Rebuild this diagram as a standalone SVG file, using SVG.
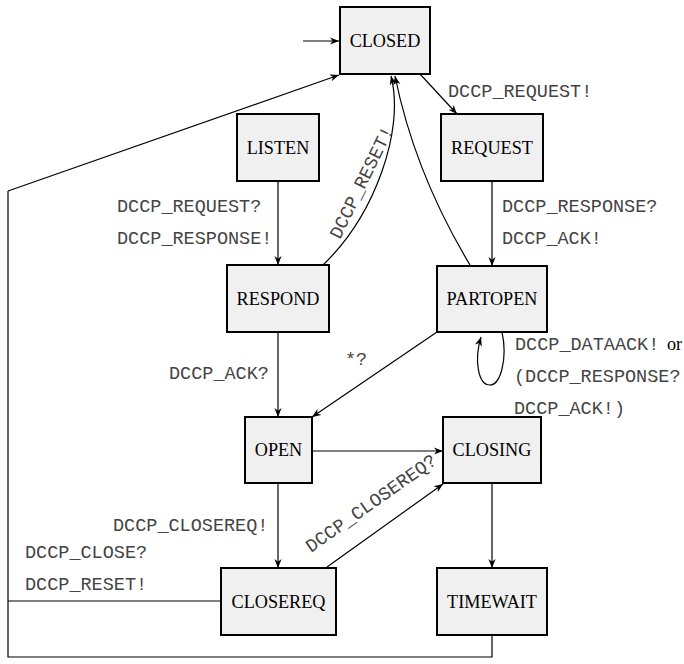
<svg xmlns="http://www.w3.org/2000/svg" width="684" height="664" viewBox="0 0 684 664">
<defs>
<marker id="arr" viewBox="0 0 10 10" refX="10" refY="5" markerWidth="9" markerHeight="9" markerUnits="userSpaceOnUse" orient="auto">
<path d="M0,1 L10,5 L0,9 L3,5 Z" fill="#000"/>
</marker>
<style>
.node rect{fill:#f0f0f0;stroke:#000;stroke-width:2}
.node text{font-family:"Liberation Serif","Times New Roman",serif;font-size:18.2px;text-anchor:middle;fill:#000}
.edges path,.edges line,.edges polyline{fill:none;stroke:#000;stroke-width:1.2}
.lbl{font-family:"Liberation Mono","Courier New",monospace;font-size:18.5px;fill:#444}
.ser{font-family:"Liberation Serif","Times New Roman",serif;font-size:18.2px;fill:#000}
</style>
</defs>
<rect width="684" height="664" fill="#fff"/>
<g class="edges">
<line x1="303" y1="41" x2="339" y2="41" marker-end="url(#arr)"/>
<line x1="420" y1="74" x2="457" y2="114" marker-end="url(#arr)"/>
<polyline points="8,191 8,657 492,657 492,635"/>
<line x1="8" y1="191" x2="339" y2="75" marker-end="url(#arr)"/>
<line x1="8" y1="601" x2="221" y2="601"/>
<line x1="278" y1="181" x2="278" y2="265" marker-end="url(#arr)"/>
<line x1="492" y1="181" x2="492" y2="266" marker-end="url(#arr)"/>
<path d="M323,265 C375,215 405,130 391,76" marker-end="url(#arr)"/>
<path d="M470,265 C440,215 410,150 395,76" marker-end="url(#arr)"/>
<line x1="278" y1="332" x2="278" y2="417" marker-end="url(#arr)"/>
<line x1="437" y1="332" x2="312" y2="417" marker-end="url(#arr)"/>
<path d="M502,332 C508,360 500,385 490,385 C478,385 474,360 481,337" marker-end="url(#arr)"/>
<line x1="312" y1="451" x2="443" y2="451" marker-end="url(#arr)"/>
<line x1="278" y1="483" x2="278" y2="568" marker-end="url(#arr)"/>
<line x1="492" y1="483" x2="492" y2="568" marker-end="url(#arr)"/>
<line x1="327" y1="567" x2="443" y2="484" marker-end="url(#arr)"/>
</g>
<g id="closed" class="node"><rect x="340" y="7" width="90" height="67"/><text x="385" y="47">CLOSED</text></g>
<g id="listen" class="node"><rect x="237" y="114" width="82" height="67"/><text x="278" y="154">LISTEN</text></g>
<g id="request" class="node"><rect x="441" y="114" width="102" height="67"/><text x="492" y="154">REQUEST</text></g>
<g id="respond" class="node"><rect x="227" y="265" width="102" height="67"/><text x="278" y="305">RESPOND</text></g>
<g id="partopen" class="node"><rect x="437" y="266" width="110" height="66"/><text x="492" y="305">PARTOPEN</text></g>
<g id="open" class="node"><rect x="245" y="417" width="67" height="66"/><text x="278.5" y="456">OPEN</text></g>
<g id="closing" class="node"><rect x="443" y="417" width="98" height="66"/><text x="492" y="456">CLOSING</text></g>
<g id="closereq" class="node"><rect x="221" y="568" width="115" height="67"/><text x="278.5" y="608">CLOSEREQ</text></g>
<g id="timewait" class="node"><rect x="437" y="568" width="110" height="67"/><text x="492" y="608">TIMEWAIT</text></g>
<g id="labels">
<text class="lbl" x="448" y="97">DCCP_REQUEST!</text>
<text class="lbl" x="117" y="212">DCCP_REQUEST?</text>
<text class="lbl" x="117" y="244">DCCP_RESPONSE!</text>
<text class="lbl" x="502" y="212">DCCP_RESPONSE?</text>
<text class="lbl" x="502" y="244">DCCP_ACK!</text>
<text class="lbl" transform="translate(340,240) rotate(-64)">DCCP_RESET!</text>
<text class="lbl" x="515" y="350">DCCP_DATAACK!</text>
<text class="ser" x="667" y="350">or</text>
<text class="lbl" x="514" y="382">(DCCP_RESPONSE?</text>
<text class="lbl" x="514" y="414">DCCP_ACK!)</text>
<text class="lbl" x="345" y="365">*?</text>
<text class="lbl" x="169" y="379">DCCP_ACK?</text>
<text class="lbl" x="113" y="531">DCCP_CLOSEREQ!</text>
<text class="lbl" x="25" y="558">DCCP_CLOSE?</text>
<text class="lbl" x="25" y="590">DCCP_RESET!</text>
<text class="lbl" transform="translate(311,553) rotate(-35.3)">DCCP_CLOSEREQ?</text>
</g>
</svg>
